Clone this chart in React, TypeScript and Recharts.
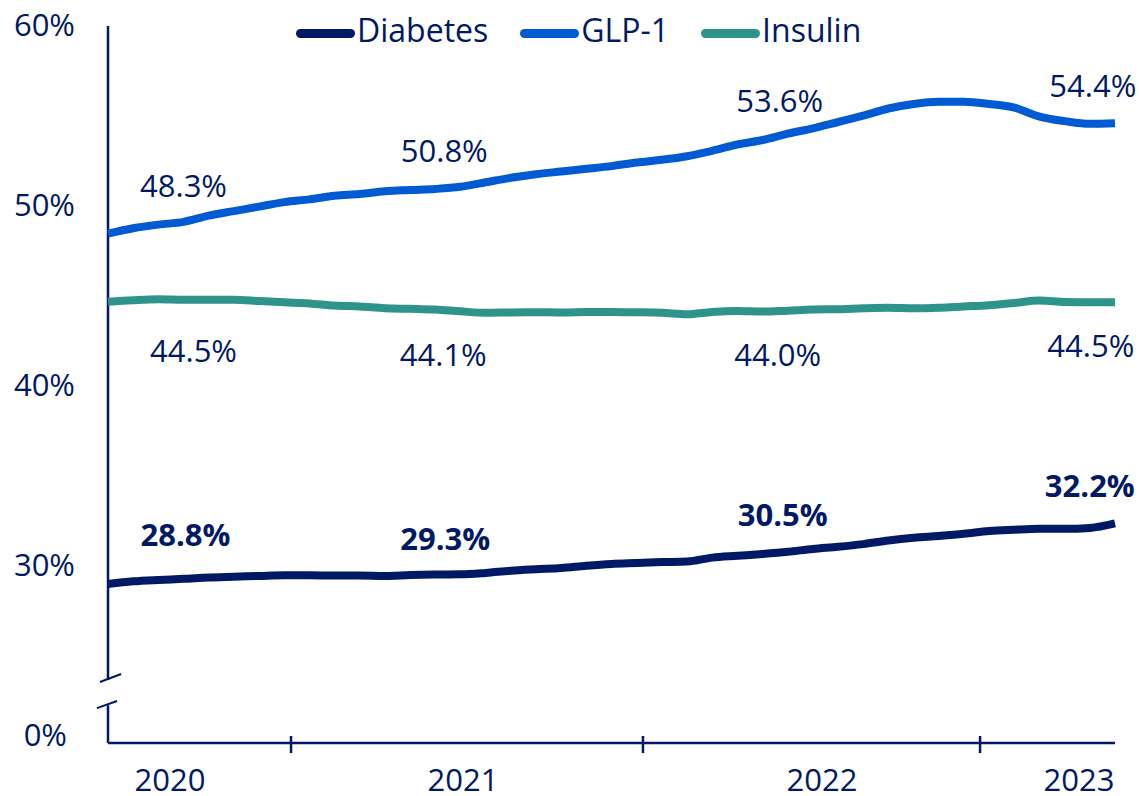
import { LineChart, Line, XAxis, YAxis, ReferenceLine } from 'recharts';

const NAVY = '#001965';
const FONT = '"Open Sans", "Noto Sans", sans-serif';

// period index along the x axis (evenly spaced samples)
const periods = [
  0, 1, 2, 3, 4, 5, 6, 7, 8, 9, 10, 11, 12, 13, 14, 15, 16, 17, 18, 19, 20,
  21, 22, 23, 24, 25, 26, 27, 28, 29, 30, 31, 32, 33, 34, 35, 36, 37, 38, 39, 40,
];

const diabetes = [
  28.83, 28.98, 29.06, 29.12, 29.2, 29.24, 29.28, 29.32, 29.32, 29.3, 29.3,
  29.28, 29.33, 29.36, 29.37, 29.45, 29.57, 29.65, 29.72, 29.85, 29.95,
  30.0, 30.05, 30.08, 30.3, 30.4, 30.5, 30.62, 30.78, 30.9, 31.05,
  31.25, 31.4, 31.5, 31.62, 31.78, 31.85, 31.9, 31.9, 31.95, 32.2,
];

const glp1 = [
  48.3, 48.6, 48.8, 48.95, 49.3, 49.55, 49.8, 50.05, 50.2, 50.4, 50.5,
  50.65, 50.72, 50.78, 50.9, 51.15, 51.4, 51.6, 51.75, 51.9, 52.05,
  52.25, 52.4, 52.6, 52.9, 53.25, 53.5, 53.85, 54.15, 54.5, 54.85,
  55.25, 55.5, 55.62, 55.62, 55.5, 55.3, 54.8, 54.55, 54.4, 54.43,
];

const insulin = [
  44.52, 44.6, 44.65, 44.62, 44.62, 44.62, 44.55, 44.48, 44.42, 44.3, 44.25,
  44.15, 44.12, 44.08, 43.98, 43.9, 43.92, 43.93, 43.92, 43.94, 43.95,
  43.93, 43.9, 43.82, 43.95, 44.0, 43.97, 44.02, 44.08, 44.1, 44.15,
  44.18, 44.15, 44.18, 44.25, 44.32, 44.45, 44.58, 44.5, 44.48, 44.48,
];

// annotated points
const labelIdx = [3, 13, 27, 39];
const diabetesLabels = ['28.8%', '29.3%', '30.5%', '32.2%'];
const glp1Labels = ['48.3%', '50.8%', '53.6%', '54.4%'];
const insulinLabels = ['44.5%', '44.1%', '44.0%', '44.5%'];

// y axis is broken: the lowest tick stands for 0%
const yTicks = [20.56, 30, 40, 50, 60];
const yearLabels = ['2020', '2021', '2022', '2023'];
const yearLabelAt = [2.46, 14.1, 28.36, 38.57];
const yearBreaks = [7.27, 21.25, 34.64];

const series = [
  {
    key: 'diabetes', name: 'Diabetes', color: NAVY, labels: diabetesLabels, bold: true,
    dx: [2, 10, -5, 0], dy: [-45, -37, -38, -43],
  },
  {
    key: 'glp1', name: 'GLP-1', color: '#005AD2', labels: glp1Labels, bold: false,
    dx: [0, 9, -8, 3], dy: [-37, -39, -34, -39],
  },
  {
    key: 'insulin', name: 'Insulin', color: '#2E948B', labels: insulinLabels, bold: false,
    dx: [10, 8, -10, 1], dy: [50, 44, 43, 43],
  },
];

const data = periods.map((p, i) => ({
  p,
  diabetes: diabetes[i],
  glp1: glp1[i],
  insulin: insulin[i],
}));

const makeLabel = (texts: string[], dx: number[], dy: number[], bold: boolean) => (props: any) => {
  const { x, y, index } = props;
  const k = labelIdx.indexOf(index);
  if (k < 0) return null;
  return (
    <text
      x={x + dx[k]}
      y={y + dy[k]}
      textAnchor="middle"
      dominantBaseline="central"
      fill={NAVY}
      fontFamily={FONT}
      fontSize={31}
      fontWeight={bold ? 700 : 400}
    >
      {texts[k]}
    </text>
  );
};

const YTick = (props: any) => {
  const { x, y, payload } = props;
  const zero = payload.value < 25;
  return (
    <text
      x={x - (zero ? 41 : 33)}
      y={y + 1}
      textAnchor="end"
      dominantBaseline="central"
      fill={NAVY}
      fontFamily={FONT}
      fontSize={31}
    >
      {zero ? '0%' : `${payload.value}%`}
    </text>
  );
};

const XTick = (props: any) => {
  const { x, y, payload } = props;
  const k = yearLabelAt.indexOf(payload.value);
  return (
    <text
      x={x}
      y={y + 36}
      textAnchor="middle"
      dominantBaseline="central"
      fill={NAVY}
      fontFamily={FONT}
      fontSize={31}
    >
      {yearLabels[k]}
    </text>
  );
};

export default function App() {
  return (
    <div style={{ position: 'absolute', left: 0, top: 0, width: 1139, height: 796, background: '#fff' }}>
      <LineChart
        width={1139}
        height={796}
        data={data}
        margin={{ top: 23, right: 24, bottom: 0, left: 0 }}
      >
        <XAxis
          dataKey="p"
          type="number"
          domain={[0, 40]}
          ticks={yearLabelAt}
          interval={0}
          tick={<XTick />}
          tickLine={false}
          tickSize={0}
          tickMargin={0}
          height={53}
          axisLine={{ stroke: NAVY, strokeWidth: 2.5 }}
        />
        <YAxis
          type="number"
          domain={[20, 60]}
          ticks={yTicks}
          interval={0}
          tick={<YTick />}
          tickLine={false}
          tickSize={0}
          tickMargin={0}
          axisLine={false}
          width={108}
        />

        {/* broken y axis */}
        <ReferenceLine segment={[{ x: 0, y: 59.83 }, { x: 0, y: 23.5 }]} stroke={NAVY} strokeWidth={2.5} ifOverflow="visible" />
        <ReferenceLine segment={[{ x: 0, y: 22.1 }, { x: 0, y: 20 }]} stroke={NAVY} strokeWidth={2.5} ifOverflow="visible" />
        <ReferenceLine segment={[{ x: -0.32, y: 23.39 }, { x: 0.52, y: 23.83 }]} stroke={NAVY} strokeWidth={2} ifOverflow="visible" />
        <ReferenceLine segment={[{ x: -0.44, y: 21.94 }, { x: 0.36, y: 22.33 }]} stroke={NAVY} strokeWidth={2} ifOverflow="visible" />

        {/* year separators crossing the x axis */}
        {yearBreaks.map((b) => (
          <ReferenceLine
            key={b}
            segment={[{ x: b, y: 20.39 }, { x: b, y: 19.44 }]}
            stroke={NAVY}
            strokeWidth={2.5}
            ifOverflow="visible"
          />
        ))}

        {series.map((s) => (
          <Line
            key={s.key}
            type="monotone"
            dataKey={s.key}
            name={s.name}
            stroke={s.color}
            strokeWidth={8}
            dot={false}
            activeDot={false}
            isAnimationActive={false}
            label={makeLabel(s.labels, s.dx, s.dy, s.bold)}
          />
        ))}
      </LineChart>

      {/* legend */}
      <div
        style={{
          position: 'absolute',
          left: 296,
          top: 10,
          height: 40,
          display: 'flex',
          alignItems: 'center',
          fontFamily: FONT,
          fontSize: 32,
          color: NAVY,
          lineHeight: 1,
        }}
      >
        {series.map((s) => (
          <div key={s.key} style={{ display: 'flex', alignItems: 'center', marginRight: 32 }}>
            <span
              style={{
                display: 'inline-block',
                position: 'relative',
                top: 3,
                width: 59,
                height: 9,
                borderRadius: 5,
                background: s.color,
                marginRight: 2,
              }}
            />
            <span>{s.name}</span>
          </div>
        ))}
      </div>
    </div>
  );
}
